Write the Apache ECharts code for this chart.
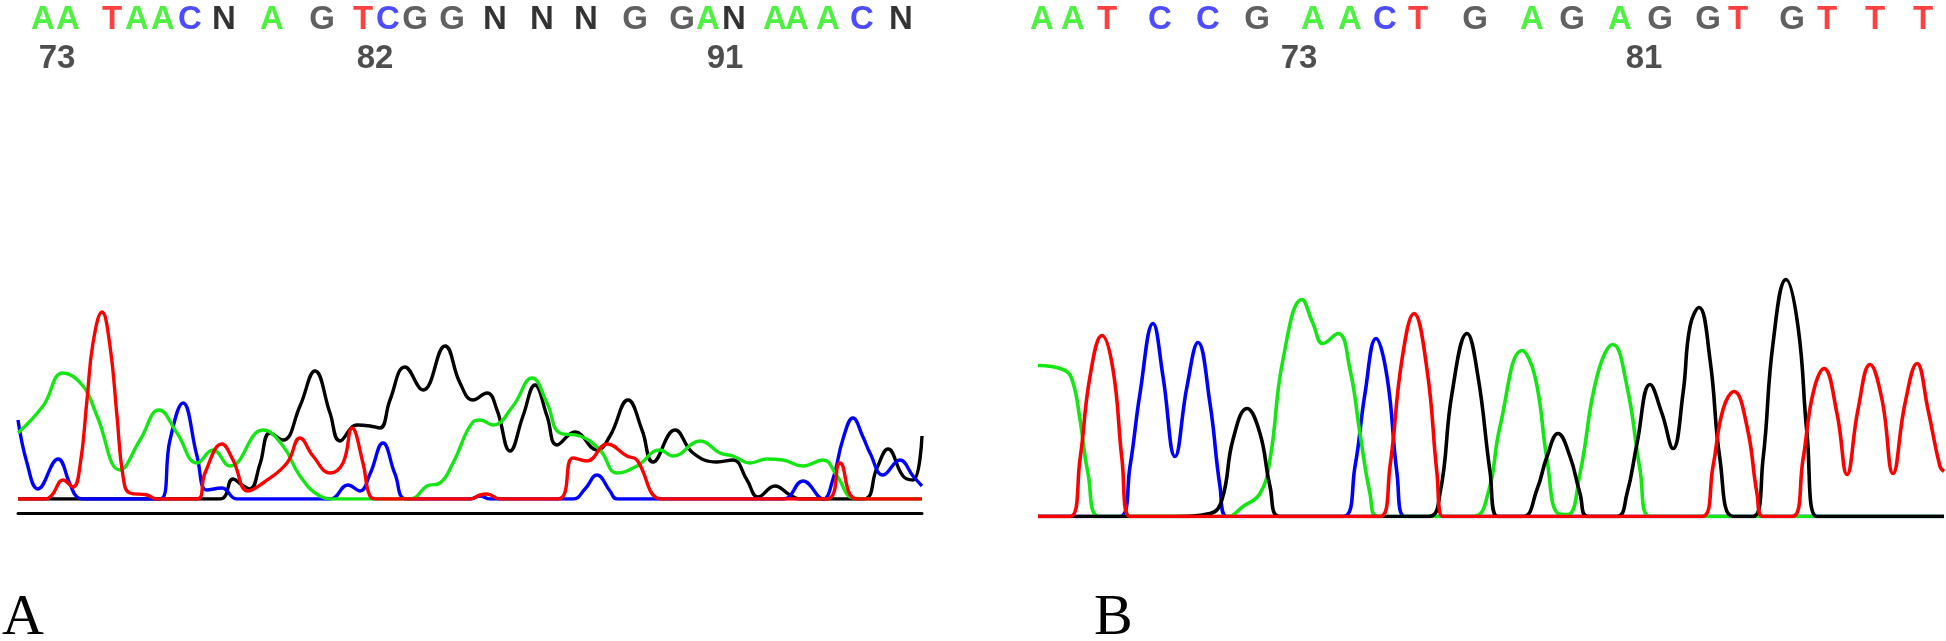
<!DOCTYPE html>
<html>
<head>
<meta charset="utf-8">
<script src="https://cdn.jsdelivr.net/npm/echarts@6/dist/echarts.min.js"></script>
<style>html,body{margin:0;padding:0;background:#fff}#c{width:1946px;height:641px}</style>
</head>
<body>
<div id="c"></div>
<script>
// ---------- Panel A : base calls (scan position) ----------
const basesA = ['A','A','T','A','A','C','N','A','G','T','C','G','G','N','N','N','G','G','A','N','A','A','A','C','N'];
const basePosA = [43,68,112,137,163,190,224,272,322,363,388,415,452,495,542,586,635,682,708,734,775,797,828,862,901];
const numLabelsA = ['73','82','91'];
const numPosA = [57,375,725];
// Panel A traces: [scan, intensity]
const traceA_A = [[18,66],[43,93],[63,126],[83,113],[97,83],[120,29],[140,59],[159,89],[177,66],[197,36],[213,49],[230,33],[263,69],[283,53],[300,23],[320,3],[335,0],[410,0],[427,13],[440,16],[453,36],[473,77],[480,79],[493,74],[513,93],[532,121],[547,96],[560,66],[580,63],[600,49],[617,26],[637,33],[660,49],[673,43],[700,58],[720,46],[733,43],[750,36],[767,40],[783,39],[803,33],[823,39],[837,23],[853,1],[870,0],[922,0]];
const traceA_T = [[18,0],[45,0],[52,4],[63,19],[73,12],[80,33],[87,99],[93,156],[102,187],[110,153],[117,83],[123,23],[130,6],[147,4],[157,0],[197,0],[205,26],[222,55],[233,39],[248,8],[263,16],[287,36],[300,61],[313,43],[330,26],[343,36],[352,71],[363,36],[370,3],[378,0],[470,0],[480,4],[487,5],[500,0],[558,0],[573,41],[587,38],[607,55],[627,43],[637,39],[657,1],[665,0],[827,0],[840,36],[857,0],[922,0]];
const traceA_C = [[18,79],[27,36],[38,10],[58,40],[70,15],[77,2],[85,0],[160,0],[170,59],[183,96],[197,43],[207,9],[222,11],[237,0],[330,0],[348,14],[360,8],[370,25],[383,56],[395,25],[407,0],[470,0],[480,3],[490,0],[573,0],[585,10],[597,24],[610,8],[617,0],[783,0],[803,18],[823,0],[833,20],[843,60],[853,81],[863,62],[870,46],[883,24],[900,39],[913,23],[922,13]];
const traceA_G = [[18,0],[220,0],[233,20],[242,14],[250,10],[260,35],[270,66],[283,59],[300,93],[315,128],[330,86],[340,58],[357,74],[370,73],[380,71],[390,99],[405,132],[423,109],[445,153],[460,116],[473,99],[487,106],[497,89],[510,48],[523,83],[535,114],[547,83],[557,54],[575,67],[597,49],[610,63],[628,99],[642,69],[653,37],[675,69],[693,46],[717,37],[733,39],[747,19],[758,2],[775,13],[790,4],[800,0],[863,0],[877,31],[888,50],[903,23],[913,19],[922,63]];

// ---------- Panel B ----------
const basesB = ['A','A','T','C','C','G','A','A','C','T','G','A','G','A','G','G','T','G','T','T','T'];
const basePosB = [1042,1073,1107,1160,1208,1257,1313,1350,1385,1418,1475,1532,1572,1620,1660,1708,1738,1792,1827,1875,1923];
const numLabelsB = ['73','81'];
const numPosB = [1299,1644];
const traceB_A = [[1038,151],[1063,147],[1072,137],[1080,97],[1088,43],[1100,0],[1227,0],[1243,10],[1260,23],[1270,57],[1283,157],[1302,217],[1313,193],[1323,173],[1338,183],[1350,147],[1360,83],[1370,23],[1378,0],[1473,0],[1488,23],[1500,90],[1522,166],[1535,140],[1547,57],[1558,3],[1568,2],[1580,43],[1597,140],[1613,172],[1627,130],[1640,47],[1650,0],[1944,0]];
const traceB_T = [[1038,0],[1070,0],[1080,57],[1090,140],[1102,181],[1113,147],[1122,57],[1130,0],[1380,0],[1390,50],[1402,157],[1414,203],[1427,147],[1437,43],[1443,0],[1702,0],[1713,50],[1723,107],[1734,125],[1747,90],[1757,23],[1763,0],[1792,0],[1803,57],[1813,123],[1824,148],[1837,103],[1847,42],[1858,107],[1870,152],[1882,117],[1893,43],[1905,113],[1917,153],[1928,107],[1940,50],[1944,45]];
const traceB_C = [[1038,0],[1120,0],[1130,50],[1140,123],[1153,193],[1163,140],[1175,60],[1187,130],[1198,174],[1210,113],[1220,30],[1227,0],[1343,0],[1355,50],[1365,123],[1376,178],[1387,140],[1397,43],[1405,0],[1944,0]];
const traceB_G = [[1038,0],[1173,0],[1210,3],[1222,17],[1233,77],[1247,108],[1260,83],[1270,30],[1280,0],[1428,0],[1440,23],[1452,123],[1467,183],[1478,140],[1490,45],[1498,0],[1523,0],[1537,27],[1547,60],[1558,83],[1570,60],[1580,23],[1588,0],[1617,0],[1627,23],[1637,73],[1650,132],[1662,103],[1673,68],[1683,123],[1690,190],[1699,209],[1710,157],[1720,57],[1733,0],[1753,0],[1763,57],[1773,173],[1786,237],[1798,190],[1807,83],[1817,0],[1944,0]];

const panelLabels = ['A','B'];

const baseColor = {A:'#22ee11', T:'#ff1010', C:'#2020ff', G:'#383838', N:'#000000'};
const traceColor = {A:'#14e614', T:'#ff0000', C:'#0000ff', G:'#000000'};

function headerSeries(bases, pos, nums, npos, xi, yi){
  return [{
    type:'scatter', xAxisIndex:xi, yAxisIndex:yi, symbolSize:1, itemStyle:{color:'rgba(0,0,0,0)'}, silent:true,
    data: bases.map((b,i)=>({value:[pos[i],'base'], name:b, label:{color:baseColor[b]}})),
    label:{show:true, position:'inside', formatter:p=>p.name, fontFamily:'Liberation Sans', fontWeight:'bold', fontSize:33}
  },{
    type:'scatter', xAxisIndex:xi, yAxisIndex:yi, symbolSize:1, itemStyle:{color:'rgba(0,0,0,0)'}, silent:true,
    data: nums.map((n,i)=>({value:[npos[i],'num'], name:n})),
    label:{show:true, position:'inside', formatter:p=>p.name, fontFamily:'Liberation Sans', fontWeight:'bold', fontSize:33, color:'#222'}
  }];
}
function traceSeries(list, xi, yi, w){
  return list.map(([b,d])=>({
    type:'line', xAxisIndex:xi, yAxisIndex:yi, data:d, showSymbol:false, smooth:0.45, silent:true,
    lineStyle:{color:traceColor[b], width:w}
  }));
}

const chart = echarts.init(document.getElementById('c'));
chart.setOption({
  animation:false,
  backgroundColor:'#fff',
  title: [
    {text:panelLabels[0], left:2, top:590, padding:0, textStyle:{fontFamily:'Liberation Serif', fontSize:58, fontWeight:'normal', color:'#000'}},
    {text:panelLabels[1], left:1094, top:590, padding:0, textStyle:{fontFamily:'Liberation Serif', fontSize:58, fontWeight:'normal', color:'#000'}}
  ],
  grid:[
    {left:18, top:299, width:904, height:200},
    {left:18, top:-3, width:904, height:82},
    {left:1037, top:276.5, width:907, height:240},
    {left:1037, top:-3, width:907, height:82}
  ],
  xAxis:[
    {type:'value', gridIndex:0, min:18, max:922, offset:14, axisLine:{show:true, onZero:false, lineStyle:{color:'#000', width:3}}, axisTick:{show:false}, axisLabel:{show:false}, splitLine:{show:false}},
    {type:'value', gridIndex:1, min:18, max:922, show:false},
    {type:'value', gridIndex:2, min:1037, max:1944, show:false},
    {type:'value', gridIndex:3, min:1037, max:1944, show:false}
  ],
  yAxis:[
    {type:'value', gridIndex:0, min:0, max:200, show:false},
    {type:'category', gridIndex:1, data:['base','num'], inverse:true, show:false},
    {type:'value', gridIndex:2, min:0, max:240, show:false},
    {type:'category', gridIndex:3, data:['base','num'], inverse:true, show:false}
  ],
  series:[
    ...traceSeries([['G',traceA_G],['C',traceA_C],['A',traceA_A],['T',traceA_T]],0,0,3.4),
    ...headerSeries(basesA, basePosA, numLabelsA, numPosA, 1, 1),
    ...traceSeries([['C',traceB_C],['A',traceB_A],['G',traceB_G],['T',traceB_T]],2,2,3.6),
    ...headerSeries(basesB, basePosB, numLabelsB, numPosB, 3, 3)
  ]
});
</script>
</body>
</html>
